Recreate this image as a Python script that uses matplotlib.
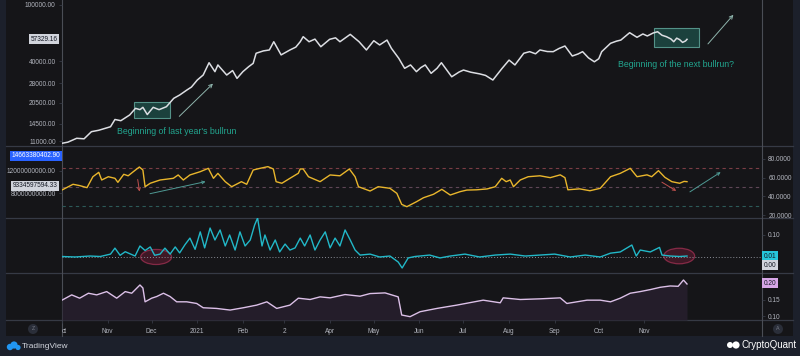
import numpy as np
import matplotlib
matplotlib.use('Agg')
import matplotlib.pyplot as plt
import matplotlib.dates as mdates
import matplotlib.transforms as mtransforms
from matplotlib.patches import Rectangle, Ellipse
from matplotlib.lines import Line2D

plt.rcParams['font.family'] = ['Liberation Sans', 'DejaVu Sans']

START = '2020-10-01'

# BTC price (log pane), days counted from START
price_day = [0, 4, 10, 15, 20, 25, 33, 36, 40, 46, 50, 53, 55, 58, 62, 66, 71, 76, 80, 85, 88,
             92, 96, 100, 104, 106, 112, 116, 119, 123, 127, 130, 132, 137, 141, 144, 149, 155,
             159, 162, 164, 168, 172, 176, 182, 186, 189, 196, 202, 207, 212, 216, 221, 224,
             229, 231, 233, 237, 241, 244, 247, 251, 255, 258, 262, 265, 270, 273, 278, 284,
             288, 293, 299, 304, 308, 314, 318, 322, 325, 330, 334, 338, 342, 347, 351, 354,
             358, 362, 365, 367, 373, 377, 380, 386, 391, 395, 398, 402, 405, 408, 411, 414,
             416, 418, 420, 422, 424, 425]
price = [10600, 10800, 11500, 11400, 12800, 13100, 13870, 15600, 15300, 16780, 18700, 18300,
         19000, 16900, 19000, 18300, 19200, 22000, 23200, 25200, 26400, 29600, 32100, 39200,
         33900, 37800, 32100, 34500, 30400, 33900, 36800, 38800, 45700, 47500, 48200, 55100,
         44500, 48200, 50500, 55100, 59800, 55100, 57500, 50800, 57300, 58700, 55100, 62100,
         55100, 48200, 56000, 52300, 56600, 49500, 42100, 38800, 35800, 37800, 33900, 36200,
         37800, 33000, 35800, 39200, 34400, 31200, 33700, 34800, 33600, 32700, 31900, 29600,
         35500, 40900, 37800, 45700, 46900, 45300, 48200, 47000, 46900, 49400, 51400, 43700,
         45200, 46900, 42400, 39800, 41800, 46900, 53700, 55600, 56600, 63800, 59200, 62500,
         60500, 63500, 64800, 61200, 59800, 57700, 55100, 58400, 57000, 54500, 55800, 57300]

# oscillator (yellow, right scale 0-100)
rsi_day = [0, 7.5, 12, 17, 21, 25, 27, 31.5, 36, 38, 42, 45, 48.5, 52.6, 55, 56.5, 60, 66.7,
           75.7, 79, 82.5, 87, 94, 99.5, 103, 106, 111, 115.4, 122, 125.6, 130, 134.7, 140,
           143.7, 145.6, 149.5, 155, 160.7, 162, 164, 167.6, 175.5, 182.3, 189, 195.4, 199.3,
           201.6, 209.5, 215, 223, 227.7, 231, 234.5, 241, 245.8, 252.6, 258.3, 264, 270.7,
           275.3, 282, 289, 294.6, 299, 302, 304.8, 307, 311.6, 317, 325, 332, 338.8, 342,
           344, 352, 359, 366, 373, 379.6, 386.4, 391, 397.8, 401, 405.6, 410, 414.7, 420,
           423, 425]
rsi = [46.8, 52.9, 51.5, 49.3, 61, 65.7, 57.5, 61, 59.3, 55, 63.6, 62, 66.4, 71.4, 68.2, 50.3,
       54, 57.5, 59.3, 62.9, 57.5, 62.9, 66.4, 70, 59.3, 64.6, 55.7, 50.3, 55.7, 52.9, 68.2,
       70, 71.8, 69.3, 55.7, 54, 59.3, 64.7, 69.3, 69.3, 61, 55.7, 62.9, 62, 69.3, 61, 50.3,
       45.7, 50.3, 48.6, 43.2, 31.4, 28.9, 34.2, 38.5, 42.2, 47.5, 41.4, 45, 46.7, 47, 47.9,
       50.3, 59.3, 55.7, 57.5, 50.3, 57.5, 61, 62, 60, 63, 60, 47, 48, 46, 48.6, 61, 64.6,
       70, 61, 63, 61, 67.5, 60.3, 55.7, 54, 56, 55.7]

# cyan indicator
flow_day = [0, 9, 19, 26, 33, 36, 39.5, 43, 49.7, 53, 56.5, 60, 63, 66.7, 70, 73.5, 77, 80,
            83.7, 87, 90.5, 94, 97, 100.7, 104, 107.5, 111, 114, 117.7, 121, 124.5, 128, 131,
            133, 136, 138, 141.5, 145, 148, 151.7, 155, 158.5, 162, 165, 168.7, 172, 175.5,
            179, 182.3, 185.7, 189, 192.5, 196, 199.3, 202.7, 209.5, 216, 223, 228.6, 231.3,
            235.4, 240, 250, 257, 264, 274, 284, 294.6, 304.8, 315, 325, 335, 345.6, 355.8,
            366, 373, 379.6, 387.5, 390.5, 393.2, 400, 406.3, 408, 413.6, 420, 425]
flow = [0.010, 0.008, 0.012, 0.010, 0.020, 0.045, 0.015, 0.030, 0.012, 0.054, 0.035, 0.050,
        0.015, 0.020, 0.045, 0.020, 0.050, 0.025, 0.060, 0.087, 0.040, 0.113, 0.046, 0.129,
        0.079, 0.121, 0.054, 0.100, 0.037, 0.113, 0.054, 0.079, 0.142, 0.171, 0.054, 0.100,
        0.037, 0.079, 0.029, 0.062, 0.037, 0.046, 0.087, 0.054, 0.100, 0.037, 0.079, 0.113,
        0.046, 0.087, 0.054, 0.121, 0.079, 0.037, 0.016, 0.020, 0.008, 0.012, -0.013, -0.038,
        0.004, 0.010, 0.016, 0.004, 0.012, 0.020, 0.008, 0.016, 0.020, 0.012, 0.016, 0.020,
        0.008, 0.016, 0.008, 0.024, 0.029, 0.058, 0.012, 0.037, 0.029, 0.048, 0.016, 0.012,
        0.010, 0.012]

# lavender ratio pane
ratio_day = [0, 6.6, 12, 18, 23.6, 30.4, 37.2, 43, 47.4, 53, 55, 56.5, 61, 64.4, 69, 73.5,
             78, 84.8, 91.6, 96, 105, 114.3, 123.3, 132.4, 139.3, 146, 155, 160.7, 168.7,
             175.5, 182.3, 192.5, 202.7, 209.5, 219.7, 228.6, 231, 236.7, 243.5, 255, 268.5,
             286.4, 298, 300, 311.6, 325, 338.8, 343.3, 357, 366, 373, 379.6, 386.4, 393.2,
             400, 406.8, 413.6, 419, 422.6, 425]
ratio = [0.148, 0.164, 0.154, 0.169, 0.164, 0.174, 0.154, 0.174, 0.169, 0.194, 0.185, 0.143,
         0.154, 0.159, 0.169, 0.159, 0.143, 0.143, 0.138, 0.125, 0.123, 0.118, 0.125, 0.133,
         0.143, 0.123, 0.133, 0.154, 0.150, 0.158, 0.155, 0.165, 0.160, 0.168, 0.170, 0.158,
         0.103, 0.098, 0.113, 0.123, 0.133, 0.148, 0.140, 0.155, 0.150, 0.152, 0.155, 0.138,
         0.148, 0.148, 0.143, 0.154, 0.169, 0.174, 0.180, 0.187, 0.191, 0.190, 0.209, 0.197]

price_ticks = [100000, 40000, 28000, 20500, 14500, 11000]
price_last = 57329.16
left2_ticks = [12000000000, 8000000000]
left2_boxes = [14663380402.90, 9334597594.33]
rsi_ticks = [80, 60, 40, 20]
rsi_levels = [70, 50, 30]
flow_ticks = [0.10]
ratio_ticks = [0.15, 0.10]
month_starts = ['2020-10-01', '2020-11-01', '2020-12-01', '2021-01-01', '2021-02-01',
                '2021-03-01', '2021-04-01', '2021-05-01', '2021-06-01', '2021-07-01',
                '2021-08-01', '2021-09-01', '2021-10-01', '2021-11-01']
month_labels = ['ct', 'Nov', 'Dec', '2021', 'Feb', '2', 'Apr', 'May', 'Jun', 'Jul', 'Aug',
                'Sep', 'Oct', 'Nov']

BG = '#151518'
FRAME = '#1c202b'
GRID = '#363a45'
TXT = '#b2b5be'
FS = 4.7

b = mdates.date2num(np.datetime64(START))


def X(d):
    return b + np.asarray(d, dtype=float)


def fx(px):
    return px / 800


def fy(py):
    return 1 - py / 356


def dot(px, py, r, color, z=5):
    # round marker in pixel units
    fig.patches.append(Ellipse((fx(px), fy(py)), 2 * r / 800, 2 * r / 356,
                               transform=fig.transFigure, fc=color, ec='none', zorder=z))


fig = plt.figure(figsize=(8, 3.56), dpi=100, facecolor=FRAME)
fig.patches.append(Rectangle((fx(6), fy(336)), fx(787), 336 / 356, transform=fig.transFigure,
                             fc=BG, ec='none', zorder=-10))


def make_ax(top, bottom):
    ax = fig.add_axes([fx(62), fy(bottom), fx(700), (bottom - top) / 356])
    ax.set_facecolor('none')
    for s in ax.spines.values():
        s.set_visible(False)
    ax.set_xlim(b, b + 476)
    ax.set_xticks([])
    ax.tick_params(axis='y', colors=GRID, labelcolor=TXT, labelsize=FS, length=2.5,
                   width=0.6, pad=2)
    return ax


ax1 = make_ax(0, 146)
ax2 = make_ax(146, 218)
ax3 = make_ax(218, 273)
ax4 = make_ax(273, 320)

# separators
for py in [146, 218, 273, 320]:
    fig.add_artist(Line2D([fx(6), fx(793)], [fy(py), fy(py)], color=GRID, lw=0.9, zorder=-5))
for px in [62, 762]:
    fig.add_artist(Line2D([fx(px), fx(px)], [fy(0), fy(336)], color='#4a4d55', lw=0.8,
                          zorder=-5))

# ---- price pane
ax1.set_yscale('log')
ax1.set_ylim(10146, 108450)
ax1.plot(X(price_day), price, color='#dcdee3', lw=1.1, zorder=3)
ax1.yaxis.set_minor_locator(matplotlib.ticker.NullLocator())
ax1.set_yticks(price_ticks)
ax1.set_yticklabels(['%.2f' % v for v in price_ticks])
ax1.text(-0.006, price_last, '%.2f' % price_last, transform=mtransforms.blended_transform_factory(
    ax1.transAxes, ax1.transData), ha='right', va='center', fontsize=FS, color='#131722',
    bbox=dict(boxstyle='square,pad=0.25', fc='#d1d4dc', ec='none'))

ax1.add_patch(Rectangle((X(49), 15990), 24.5, 20720 - 15990, fc='#1d4a44', ec='#5fa59a',
                        lw=0.8, alpha=0.85, zorder=2))
ax1.add_patch(Rectangle((X(402.7), 50590), 30.6, 68850 - 50590, fc='#1d4a44', ec='#5fa59a',
                        lw=0.8, alpha=0.85, zorder=2))
arrow = dict(arrowstyle='->', color='#8fb5ad', lw=0.7, mutation_scale=6)
ax1.annotate('', xy=(X(104), 28810), xytext=(X(78.4), 15910), arrowprops=arrow)
ax1.annotate('', xy=(X(457.8), 88250), xytext=(X(438), 51400), arrowprops=arrow)
ax1.text(X(78), 12740, "Beginning of last year's bullrun", ha='center', va='center',
         fontsize=6.3, color='#22a58f')
ax1.text(X(417.7), 38360, 'Beginning of the next bullrun?', ha='center', va='center',
         fontsize=6.3, color='#22a58f')

# ---- oscillator pane (left-hand scale drawn on a twin)
ax2b = ax2.twinx()
ax2b.set_ylim(3.63e9, 16.37e9)
for s in ax2b.spines.values():
    s.set_visible(False)
ax2b.yaxis.tick_left()
ax2b.set_yticks(left2_ticks)
ax2b.set_yticklabels(['%.2f' % v for v in left2_ticks])
ax2b.tick_params(axis='y', colors=GRID, labelcolor=TXT, labelsize=FS, length=2.5, width=0.6,
                 pad=2)
lt = mtransforms.blended_transform_factory(ax2b.transAxes, ax2b.transData)
ax2b.text(-0.002, left2_boxes[0], '%.2f' % left2_boxes[0], transform=lt, ha='right',
          va='center', fontsize=FS, color='white',
          bbox=dict(boxstyle='square,pad=0.25', fc='#2962ff', ec='none'))
ax2b.text(-0.006, left2_boxes[1], '%.2f' % left2_boxes[1], transform=lt, ha='right',
          va='center', fontsize=FS, color='#131722', zorder=6,
          bbox=dict(boxstyle='square,pad=0.25', fc='#d1d4dc', ec='none'))

ax2.set_ylim(16.8, 93.9)
ax2.yaxis.tick_right()
ax2.set_yticks(rsi_ticks)
ax2.set_yticklabels(['%.4f' % v for v in rsi_ticks])
for lv, c in zip(rsi_levels, ['#7a3c44', '#5e4656', '#2c5a58']):
    ax2.axhline(lv, color=c, lw=0.8, ls=(0, (3, 3)))
ax2.plot(X(rsi_day), rsi, color='#e9b62c', lw=1.0, zorder=3)
arr_r = dict(arrowstyle='->', color='#c0504d', lw=0.7, mutation_scale=5)
arr_t = dict(arrowstyle='->', color='#4f9a94', lw=0.7, mutation_scale=5)
ax2.annotate('', xy=(X(53), 42.2), xytext=(X(51.2), 61), arrowprops=arr_r)
ax2.annotate('', xy=(X(99.5), 56.4), xytext=(X(58), 42.2), arrowprops=arr_t)
ax2.annotate('', xy=(X(419.3), 44.3), xytext=(X(406.3), 56.7), arrowprops=arr_r)
ax2.annotate('', xy=(X(449.5), 67.5), xytext=(X(425.4), 43.2), arrowprops=arr_t)

# ---- cyan pane
ax3.set_ylim(-0.059, 0.171)
ax3.yaxis.tick_right()
ax3.set_yticks(flow_ticks)
ax3.set_yticklabels(['%.2f' % v for v in flow_ticks])
ax3.axhline(0.01, color='#8a8d96', lw=0.7, ls=(0, (1, 2)))
ax3.add_patch(Ellipse((X(64), 0.008), 21, 0.063, fc='#4a1a2a', ec='#9c2f50', lw=0.9,
                      alpha=0.8, zorder=1))
ax3.add_patch(Ellipse((X(419.7), 0.012), 21, 0.065, fc='#4a1a2a', ec='#9c2f50', lw=0.9,
                      alpha=0.8, zorder=1))
ax3.plot(X(flow_day), flow, color='#22b8c8', lw=1.0, zorder=3)
rt3 = mtransforms.blended_transform_factory(ax3.transAxes, ax3.transData)
ax3.text(1.003, 0.0105, '0.01', transform=rt3, ha='left', va='center', fontsize=FS,
         color='#131722', bbox=dict(boxstyle='square,pad=0.25', fc='#26c6da', ec='none'))
ax3.text(1.003, -0.026, '0.00', transform=rt3, ha='left', va='center', fontsize=FS,
         color='#131722', bbox=dict(boxstyle='square,pad=0.25', fc='#d1d4dc', ec='none'))

# ---- ratio pane
ax4.set_ylim(0.0879, 0.2303)
ax4.yaxis.tick_right()
ax4.set_yticks(ratio_ticks)
ax4.set_yticklabels(['%.2f' % v for v in ratio_ticks])
ax4.fill_between(X(ratio_day), ratio, 0.0879, color='#241d2a', lw=0, zorder=1)
ax4.plot(X(ratio_day), ratio, color='#dcc0e8', lw=1.0, zorder=3)
rt4 = mtransforms.blended_transform_factory(ax4.transAxes, ax4.transData)
ax4.text(1.003, 0.2, '0.20', transform=rt4, ha='left', va='center', fontsize=FS,
         color='#131722', bbox=dict(boxstyle='square,pad=0.25', fc='#d6a6e6', ec='none'))

# time axis
ax4.set_xticks(mdates.date2num(np.array(month_starts, dtype='datetime64[D]')))
ax4.set_xticklabels(month_labels)
ax4.tick_params(axis='x', colors=GRID, labelcolor=TXT, labelsize=FS, length=2, width=0.6,
                pad=4)
ax4.get_xticklabels()[0].set_ha('left')

# bottom bar decorations
for px, ch in [(33, 'Z'), (778, 'A')]:
    dot(px, 329, 5, '#2a2e39')
    fig.text(fx(px), fy(329), ch, ha='center', va='center', fontsize=3.8, color='#787b86',
             zorder=6)

for cx, cy, r in [(10, 347, 3.2), (14, 345, 3.6), (18, 347.5, 2.6)]:
    dot(cx, cy, r, '#2196f3')
fig.text(fx(22), fy(346), 'TradingView', ha='left', va='center', fontsize=6, color='#d1d4dc')

dot(730, 345, 3, 'white')
dot(736, 345, 3.6, 'white')
fig.text(fx(741), fy(345), 'CryptoQuant', ha='left', va='center', fontsize=7, color='white')

fig.savefig('out.png', dpi=100, facecolor=FRAME)
